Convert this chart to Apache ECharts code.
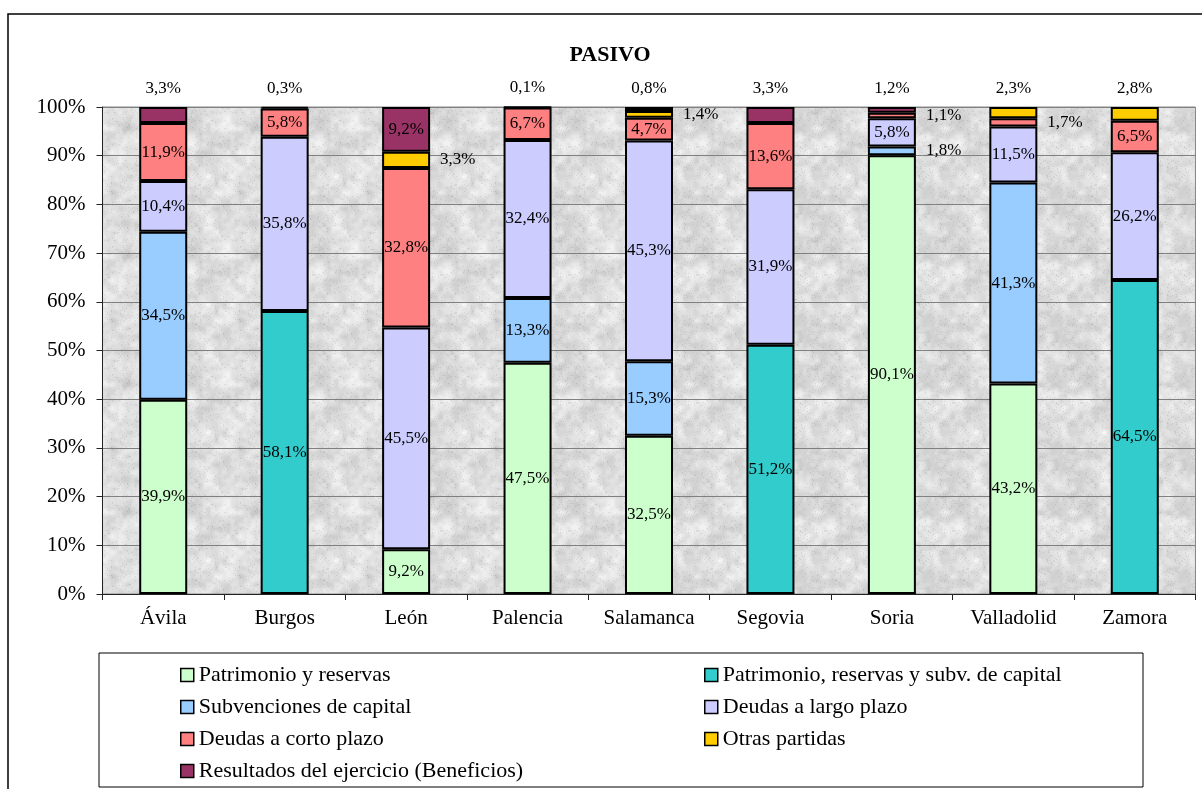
<!DOCTYPE html>
<html>
<head>
<meta charset="utf-8">
<script src="https://cdn.jsdelivr.net/npm/echarts@6/dist/echarts.min.js"></script>
<style>
  html, body { margin: 0; padding: 0; background: #fff; }
  #chart { width: 1202px; height: 789px; }
</style>
</head>
<body>
<div id="chart"></div>
<script>
// ---- Data (percent of total liabilities, per province) ----
const categories = ['Ávila', 'Burgos', 'León', 'Palencia', 'Salamanca', 'Segovia', 'Soria', 'Valladolid', 'Zamora'];
const patrimonioReservas = [39.9, 0, 9.2, 47.5, 32.5, 0, 90.1, 43.2, 0];
const patrimonioReservasSubv = [0, 58.1, 0, 0, 0, 51.2, 0, 0, 64.5];
const subvencionesCapital = [34.5, 0, 0, 13.3, 15.3, 0, 1.8, 41.3, 0];
const deudasLargo = [10.4, 35.8, 45.5, 32.4, 45.3, 31.9, 5.8, 11.5, 26.2];
const deudasCorto = [11.9, 5.8, 32.8, 6.7, 4.7, 13.6, 1.1, 1.7, 6.5];
const otrasPartidas = [0, 0, 3.3, 0, 1.4, 0, 0, 2.3, 2.8];
const resultados = [3.3, 0.3, 9.2, 0.1, 0.8, 3.3, 1.2, 0, 0];
const yTicks = [0, 10, 20, 30, 40, 50, 60, 70, 80, 90, 100];

const seriesNames = [
  'Patrimonio y reservas',
  'Patrimonio, reservas y subv. de capital',
  'Subvenciones de capital',
  'Deudas a largo plazo',
  'Deudas a corto plazo',
  'Otras partidas',
  'Resultados del ejercicio (Beneficios)'
];
const seriesValues = [patrimonioReservas, patrimonioReservasSubv, subvencionesCapital, deudasLargo, deudasCorto, otrasPartidas, resultados];
const seriesColors = ['#CCFFCC', '#33CCCC', '#99CCFF', '#CCCCFF', '#FF8080', '#FFCC00', '#993366'];

const FONT = '"Liberation Serif", "Times New Roman", serif';

// ---- Granite-like background texture (deterministic) ----
function makeTexture() {
  const S = 128;
  const c = document.createElement('canvas');
  c.width = S; c.height = S;
  const ctx = c.getContext('2d');
  const img = ctx.createImageData(S, S);
  const hash = (x, y) => {
    let h = (Math.imul(x, 374761393) + Math.imul(y, 668265263)) | 0;
    h = Math.imul(h ^ (h >>> 13), 1274126177);
    h ^= h >>> 16;
    return (h >>> 0) / 4294967296;
  };
  const noise = (x, y, cell) => {
    const n = S / cell;
    const gx = x / cell, gy = y / cell;
    const x0 = Math.floor(gx), y0 = Math.floor(gy);
    const fx = gx - x0, fy = gy - y0;
    const sx = fx * fx * (3 - 2 * fx), sy = fy * fy * (3 - 2 * fy);
    const a = hash(x0 % n, y0 % n), b = hash((x0 + 1) % n, y0 % n);
    const c2 = hash(x0 % n, (y0 + 1) % n), d = hash((x0 + 1) % n, (y0 + 1) % n);
    return a + (b - a) * sx + (c2 - a) * sy + (a - b - c2 + d) * sx * sy;
  };
  for (let y = 0; y < S; y++) {
    for (let x = 0; x < S; x++) {
      const v = 0.35 * noise(x, y, 16) + 0.35 * noise(x, y, 8) + 0.3 * noise(x, y, 4);
      let g = 196 + 56 * v;
      const f = hash(x + 1000, y + 2000);
      if (f < 0.06) g -= 18;
      g = Math.max(180, Math.min(250, g));
      const i = (y * S + x) * 4;
      img.data[i] = g; img.data[i + 1] = g; img.data[i + 2] = g; img.data[i + 3] = 255;
    }
  }
  ctx.putImageData(img, 0, 0);
  return c;
}

const fmt = v => v.toFixed(1).replace('.', ',') + '%';

// index of the top (last non-zero) segment in each category
const topIndex = categories.map((_, ci) => {
  let t = -1;
  seriesValues.forEach((arr, si) => { if (arr[ci] > 0) t = si; });
  return t;
});

const series = seriesNames.map((name, si) => ({
  name,
  type: 'bar',
  stack: 'total',
  barWidth: 48,
  itemStyle: { color: seriesColors[si], borderColor: '#000', borderWidth: 2 },
  data: seriesValues[si].map((v, ci) => {
    if (!(v > 0)) return null;
    let label;
    if (topIndex[ci] === si && v < 5) {
      label = { position: 'top', distance: 10 };
    } else if (v < 4) {
      label = { position: 'right', distance: 10 };
    } else {
      label = { position: 'inside' };
    }
    return { value: v, label };
  }),
  label: {
    show: true,
    fontFamily: FONT,
    fontSize: 17,
    color: '#000',
    formatter: p => fmt(p.value)
  },
  emphasis: { disabled: true }
}));

const legendCommon = {
  orient: 'vertical',
  top: 659,
  itemWidth: 13,
  itemHeight: 13,
  itemGap: 10,
  icon: 'rect',
  selectedMode: false,
  itemStyle: { borderColor: '#000', borderWidth: 1.5 },
  textStyle: { fontFamily: FONT, fontSize: 22, lineHeight: 22, color: '#000' }
};

const chart = echarts.init(document.getElementById('chart'), null, { renderer: 'canvas' });
chart.setOption({
  animation: false,
  backgroundColor: '#fff',
  graphic: [
    { type: 'rect', z: 0, silent: true, shape: { x: 8, y: 14, width: 1300, height: 900 },
      style: { fill: 'transparent', stroke: '#000', lineWidth: 1.5 } },
    { type: 'rect', z: 0, silent: true, shape: { x: 99, y: 653, width: 1044, height: 134 },
      style: { fill: 'transparent', stroke: '#000', lineWidth: 1 } },
    { type: 'text', z: 10, silent: true, x: 610, y: 55,
      style: { text: 'PASIVO', font: 'bold 22px ' + FONT, fill: '#000', textAlign: 'center', textVerticalAlign: 'middle' } }
  ],
  legend: [
    Object.assign({}, legendCommon, { left: 175, data: [seriesNames[0], seriesNames[2], seriesNames[4], seriesNames[6]] }),
    Object.assign({}, legendCommon, { left: 699, data: [seriesNames[1], seriesNames[3], seriesNames[5]] })
  ],
  grid: {
    left: 102.5, right: 6.5, top: 107, bottom: 195,
    show: true,
    backgroundColor: { image: makeTexture(), repeat: 'repeat' },
    borderColor: '#888',
    borderWidth: 1
  },
  xAxis: {
    type: 'category',
    data: categories,
    axisLine: { lineStyle: { color: '#222', width: 1 } },
    axisTick: { show: true, length: 6, lineStyle: { color: '#222' } },
    axisLabel: { fontFamily: FONT, fontSize: 21, color: '#000', margin: 14 }
  },
  yAxis: {
    type: 'value',
    min: yTicks[0],
    max: yTicks[yTicks.length - 1],
    interval: yTicks[1] - yTicks[0],
    axisLine: { show: true, lineStyle: { color: '#222', width: 1 } },
    axisTick: { show: true, length: 6, lineStyle: { color: '#222' } },
    axisLabel: { fontFamily: FONT, fontSize: 21, color: '#000', margin: 17, formatter: '{value}%' },
    splitLine: { show: true, lineStyle: { color: '#808080', width: 1 } }
  },
  series
});
</script>
</body>
</html>
